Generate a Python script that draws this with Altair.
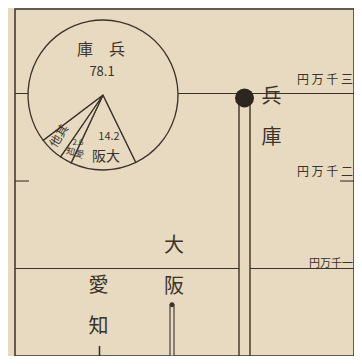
import altair as alt
import pandas as pd

# ---- data (values in 万円, shares in %) ----
prefectures = ["愛知", "大阪", "兵庫"]
amounts = [115, 585, 2950]
pie_names = ["大阪", "愛知", "其他", "兵庫"]
pie_shares = [14.2, 2.6, 5.1, 78.1]
tick_values = [1000, 2000, 3000]
tick_labels = ["円万千一", "円 万 千 二", "円 万 千 三"]

BG = "#e7dac1"
INK = "#3a322b"
FONT = "Noto Sans CJK JP"
W, H = 339, 347

bars = pd.DataFrame({
    "pref": prefectures,
    "amount": amounts,
    "vlabel": ["\n".join(p) for p in prefectures],
})
pie = pd.DataFrame({"name": pie_names, "share": pie_shares, "order": list(range(len(pie_names)))})
ticks = pd.DataFrame({"v": tick_values, "label": tick_labels})

yscale = alt.Scale(domain=[0, 3966], nice=False)
xscale = alt.Scale(type="point", domain=prefectures, range=[84.5, 229.5], padding=0)
X = alt.X("pref:N", scale=xscale, axis=None)
Y = alt.Y("amount:Q", scale=yscale, axis=None)

base_bars = alt.Chart(bars)
base_ticks = alt.Chart(ticks)

# gridlines
full_rules = base_ticks.transform_filter("datum.v != 2000").mark_rule(
    stroke=INK, strokeWidth=1.1
).encode(y=alt.Y("v:Q", scale=yscale, axis=None))
short_left = base_ticks.transform_filter("datum.v == 2000").mark_rule(
    stroke=INK, strokeWidth=1.1
).encode(y=alt.Y("v:Q", scale=yscale, axis=None), x=alt.value(0), x2=alt.value(14))
short_right = base_ticks.transform_filter("datum.v == 2000").mark_rule(
    stroke=INK, strokeWidth=1.1
).encode(y=alt.Y("v:Q", scale=yscale, axis=None), x=alt.value(325), x2=alt.value(339))

# tick labels (right side)
tick_text = []
for val, dy, fs in [(3000, -14, 12), (2000, -9, 12), (1000, -5, 11)]:
    tick_text.append(
        base_ticks.transform_filter(f"datum.v == {val}").mark_text(
            align="right", baseline="middle", font=FONT, fontSize=fs, color=INK, dy=dy
        ).encode(x=alt.value(338), y=alt.Y("v:Q", scale=yscale, axis=None), text="label:N")
    )

# match sticks
hyogo_stick = base_bars.transform_filter("datum.pref == '兵庫'").mark_bar(
    width=11, fill=BG, stroke=INK, strokeWidth=1.4
).encode(x=X, y=Y)
osaka_stick = base_bars.transform_filter("datum.pref == '大阪'").mark_bar(
    width=4, fill=BG, stroke=INK, strokeWidth=1.1
).encode(x=X, y=Y)
aichi_stick = base_bars.transform_filter("datum.pref == '愛知'").mark_bar(
    width=1.6, fill=INK
).encode(x=X, y=Y)

hyogo_head = base_bars.transform_filter("datum.pref == '兵庫'").mark_point(
    shape="circle", filled=True, size=360, color="#2c2520", opacity=1
).encode(x=X, y=Y)
osaka_head = base_bars.transform_filter("datum.pref == '大阪'").mark_point(
    shape="circle", filled=True, size=24, color=INK, opacity=1
).encode(x=X, y=Y)

# vertical prefecture labels
def vlabel(pref, dx, dy, baseline):
    return base_bars.transform_filter(f"datum.pref == '{pref}'").mark_text(
        font=FONT, fontSize=20, color=INK, lineBreak="\n", lineHeight=41,
        baseline=baseline, align="center", dx=dx, dy=dy
    ).encode(x=X, y=Y, text="vlabel:N")

lab_aichi = vlabel("愛知", -1, -50, "bottom")
lab_osaka = vlabel("大阪", 2, -49, "bottom")
lab_hyogo = vlabel("兵庫", 27, -11, "top")

# pie chart
pie_layer = alt.Chart(pie).mark_arc(
    outerRadius=75, fill=BG, stroke=INK, strokeWidth=1.3
).encode(
    theta=alt.Theta("share:Q", stack=True, scale=alt.Scale(range=[2.688, 8.971])),
    order=alt.Order("order:Q"),
    x=alt.value(88),
    y=alt.value(86),
)

def ann(text, x, y, size, angle=0):
    return alt.Chart(pie).transform_filter("datum.order == 0").mark_text(
        text=text, font=FONT, fontSize=size, color=INK, angle=angle,
        align="center", baseline="middle"
    ).encode(x=alt.value(x), y=alt.value(y))

pie_labels = [
    ann("庫　兵", 86, 41, 16),
    ann("78.1", 87, 63, 13),
    ann("14.2", 94, 128, 11),
    ann("阪大", 91, 148, 14),
    ann("2.6", 63, 134, 8),
    ann("知愛", 60, 144, 9, 15),
    ann("他其", 44, 127, 12, 302),
]

chart = alt.layer(
    full_rules, short_left, short_right, *tick_text,
    hyogo_stick, osaka_stick, aichi_stick, hyogo_head, osaka_head,
    lab_aichi, lab_osaka, lab_hyogo,
    pie_layer, *pie_labels,
).properties(
    width=W, height=H,
    background=BG,
    padding={"left": 7, "top": 1, "right": 0, "bottom": 0},
    autosize="none",
).configure_view(stroke=INK, strokeWidth=1.5)

chart.save("out.html", embed_options={"renderer": "svg", "actions": False})
